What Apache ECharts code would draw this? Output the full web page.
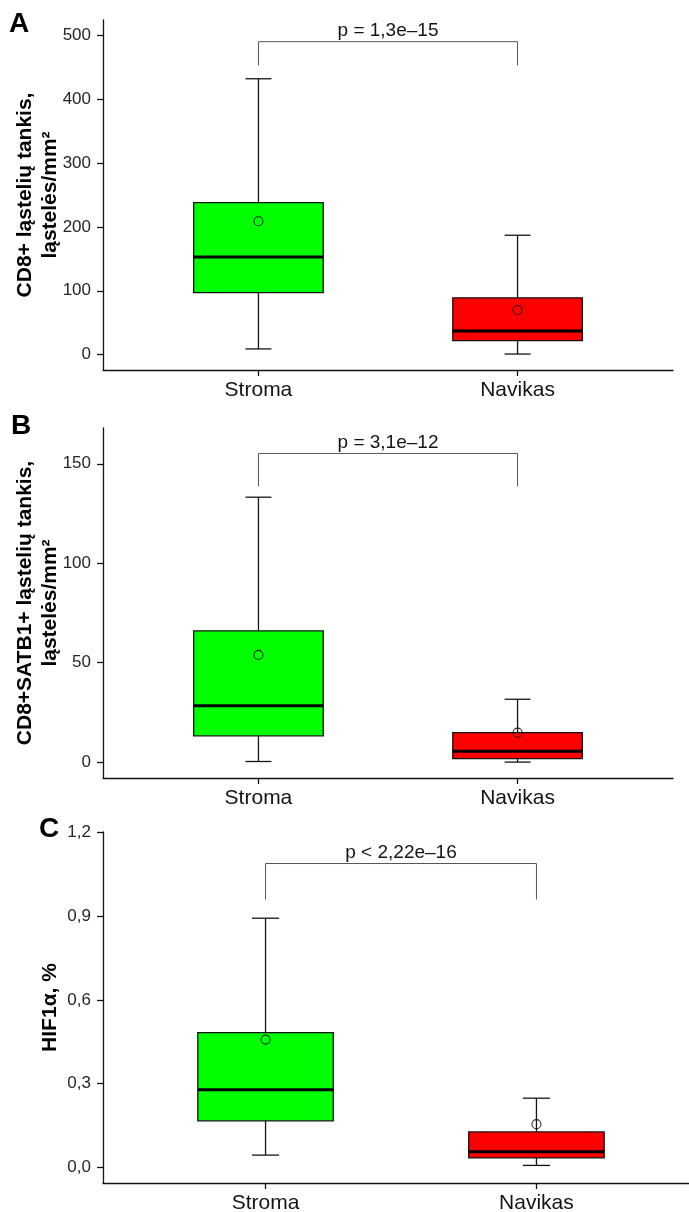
<!DOCTYPE html>
<html>
<head>
<meta charset="utf-8">
<script src="https://cdn.jsdelivr.net/npm/echarts@6/dist/echarts.min.js"></script>
<style>
  html, body { margin: 0; padding: 0; background: #fff; }
  #chart { width: 689px; height: 1212px; }
</style>
</head>
<body>
<div id="chart"></div>
<script>
const groups = ['Stroma', 'Navikas'];
const boxColors = ['#00ff00', '#ff0000'];

// A: CD8+ cell density
const aLow = [9, 1];
const aQ1 = [97, 22];
const aMedian = [153, 37];
const aQ3 = [238, 89];
const aHigh = [432, 187];
const aMean = [209, 70];
const aTicks = [0, 100, 200, 300, 400, 500];
const aBracket = [490, 453];
const aP = 'p = 1,3e\u201315';

// B: CD8+SATB1+ cell density
const bLow = [0.3, 0];
const bQ1 = [13.2, 1.7];
const bMedian = [28.3, 5.4];
const bQ3 = [66, 14.8];
const bHigh = [133.2, 31.6];
const bMean = [53.9, 14.8];
const bTicks = [0, 50, 100, 150];
const bBracket = [155.2, 138.6];
const bP = 'p = 3,1e\u201312';

// C: HIF1a
const cLow = [0.044, 0.007];
const cQ1 = [0.167, 0.034];
const cMedian = [0.278, 0.056];
const cQ3 = [0.483, 0.127];
const cHigh = [0.893, 0.248];
const cMean = [0.458, 0.155];
const cTicks = [0, 0.3, 0.6, 0.9, 1.2];
const cBracket = [1.089, 0.96];
const cP = 'p < 2,22e\u201316';

const font = '"Liberation Sans", Arial, sans-serif';
const ink = '#141414';

function boxData(low, q1, med, q3, high, mean) {
    return groups.map((g, i) => [i + 1, low[i], q1[i], med[i], q3[i], high[i], mean[i]]);
}

function renderBox(params, api) {
    const x = api.value(0);
    const low = api.coord([x, api.value(1)]);
    const q1 = api.coord([x, api.value(2)]);
    const med = api.coord([x, api.value(3)]);
    const q3 = api.coord([x, api.value(4)]);
    const high = api.coord([x, api.value(5)]);
    const mean = api.coord([x, api.value(6)]);
    const left = api.coord([x - 0.25, 0])[0];
    const right = api.coord([x + 0.25, 0])[0];
    const capL = api.coord([x - 0.05, 0])[0];
    const capR = api.coord([x + 0.05, 0])[0];
    const cx = low[0];
    const line = { stroke: ink, lineWidth: 1.3 };
    return {
        type: 'group',
        children: [
            { type: 'line', shape: { x1: cx, y1: high[1], x2: cx, y2: q3[1] }, style: line },
            { type: 'line', shape: { x1: capL, y1: high[1], x2: capR, y2: high[1] }, style: line },
            { type: 'line', shape: { x1: cx, y1: q1[1], x2: cx, y2: low[1] }, style: line },
            { type: 'line', shape: { x1: capL, y1: low[1], x2: capR, y2: low[1] }, style: line },
            { type: 'rect', shape: { x: left, y: q3[1], width: right - left, height: q1[1] - q3[1] },
              style: { fill: boxColors[params.dataIndex], stroke: ink, lineWidth: 1.3 } },
            { type: 'line', shape: { x1: left, y1: med[1], x2: right, y2: med[1] },
              style: { stroke: '#000', lineWidth: 3 } },
            { type: 'circle', shape: { cx: cx, cy: mean[1], r: 4.5 },
              style: { fill: 'none', stroke: 'rgba(0,0,0,0.8)', lineWidth: 1.1 } }
        ]
    };
}

function bracketRenderer(text) {
    return function (params, api) {
        const p1 = api.coord([api.value(0), api.value(2)]);
        const p2 = api.coord([api.value(1), api.value(2)]);
        const leg = api.coord([api.value(0), api.value(3)])[1];
        return {
            type: 'group',
            children: [
                { type: 'polyline', shape: { points: [[p1[0], leg], p1, p2, [p2[0], leg]] },
                  style: { stroke: '#555', lineWidth: 1, fill: 'none' } },
                { type: 'text', x: (p1[0] + p2[0]) / 2, y: p1[1] - 1,
                  style: { text: text, align: 'center', verticalAlign: 'bottom',
                           font: '19px ' + font, fill: ink } }
            ]
        };
    };
}

const grids = [
    { left: 103, top: 20, width: 570, height: 350 },
    { left: 103, top: 428, width: 570, height: 350 },
    { left: 103, top: 832, width: 596, height: 351 }
].map(g => Object.assign(g, { outerBoundsMode: 'none', containLabel: false }));

function xAxis(idx) {
    return {
        type: 'value', gridIndex: idx, min: 0.4, max: 2.6,
        axisLine: { show: true, onZero: false, lineStyle: { color: ink, width: 1.3 } },
        axisTick: { show: true, length: 6, customValues: [1, 2], lineStyle: { color: ink, width: 1.3 } },
        axisLabel: { customValues: [1, 2], formatter: v => groups[Math.round(v) - 1],
                     fontSize: 21, color: ink, fontFamily: font, margin: 10 },
        splitLine: { show: false }
    };
}

function yAxis(idx, min, max, ticks, name, fmt) {
    return {
        type: 'value', gridIndex: idx, min: min, max: max,
        name: name, nameLocation: 'middle', nameRotate: 90, nameGap: 40, nameMoveOverlap: false,
        nameTextStyle: { fontSize: 21, fontWeight: 'bold', color: '#000', fontFamily: font, lineHeight: 25 },
        axisLine: { show: true, onZero: false, lineStyle: { color: ink, width: 1.3 } },
        axisTick: { show: true, length: 6, customValues: ticks, lineStyle: { color: ink, width: 1.3 } },
        axisLabel: { customValues: ticks, formatter: fmt, fontSize: 17, color: '#262626', fontFamily: font, margin: 12 },
        splitLine: { show: false }
    };
}

const commaFmt = v => v.toFixed(1).replace('.', ',');

const chart = echarts.init(document.getElementById('chart'));
chart.setOption({
    animation: false,
    backgroundColor: '#fff',
    title: [
        { text: 'A', left: 9, top: 10 },
        { text: 'B', left: 11, top: 412 },
        { text: 'C', left: 39, top: 815 }
    ].map(t => Object.assign(t, { padding: 0, textStyle: { fontSize: 28, fontWeight: 'bold', color: '#000', fontFamily: font } })),
    grid: grids,
    xAxis: [xAxis(0), xAxis(1), xAxis(2)],
    yAxis: [
        yAxis(0, -24, 524, aTicks, 'CD8+ ląstelių tankis,\nląstelės/mm²', v => String(v)),
        yAxis(1, -8, 168, bTicks, 'CD8+SATB1+ ląstelių tankis,\nląstelės/mm²', v => String(v)),
        yAxis(2, -0.056, 1.202, cTicks, 'HIF1α, %', commaFmt)
    ],
    series: [
        { type: 'custom', xAxisIndex: 0, yAxisIndex: 0, renderItem: renderBox,
          data: boxData(aLow, aQ1, aMedian, aQ3, aHigh, aMean) },
        { type: 'custom', xAxisIndex: 0, yAxisIndex: 0, renderItem: bracketRenderer(aP),
          data: [[1, 2, aBracket[0], aBracket[1]]] },
        { type: 'custom', xAxisIndex: 1, yAxisIndex: 1, renderItem: renderBox,
          data: boxData(bLow, bQ1, bMedian, bQ3, bHigh, bMean) },
        { type: 'custom', xAxisIndex: 1, yAxisIndex: 1, renderItem: bracketRenderer(bP),
          data: [[1, 2, bBracket[0], bBracket[1]]] },
        { type: 'custom', xAxisIndex: 2, yAxisIndex: 2, renderItem: renderBox,
          data: boxData(cLow, cQ1, cMedian, cQ3, cHigh, cMean) },
        { type: 'custom', xAxisIndex: 2, yAxisIndex: 2, renderItem: bracketRenderer(cP),
          data: [[1, 2, cBracket[0], cBracket[1]]] }
    ]
});
</script>
</body>
</html>
